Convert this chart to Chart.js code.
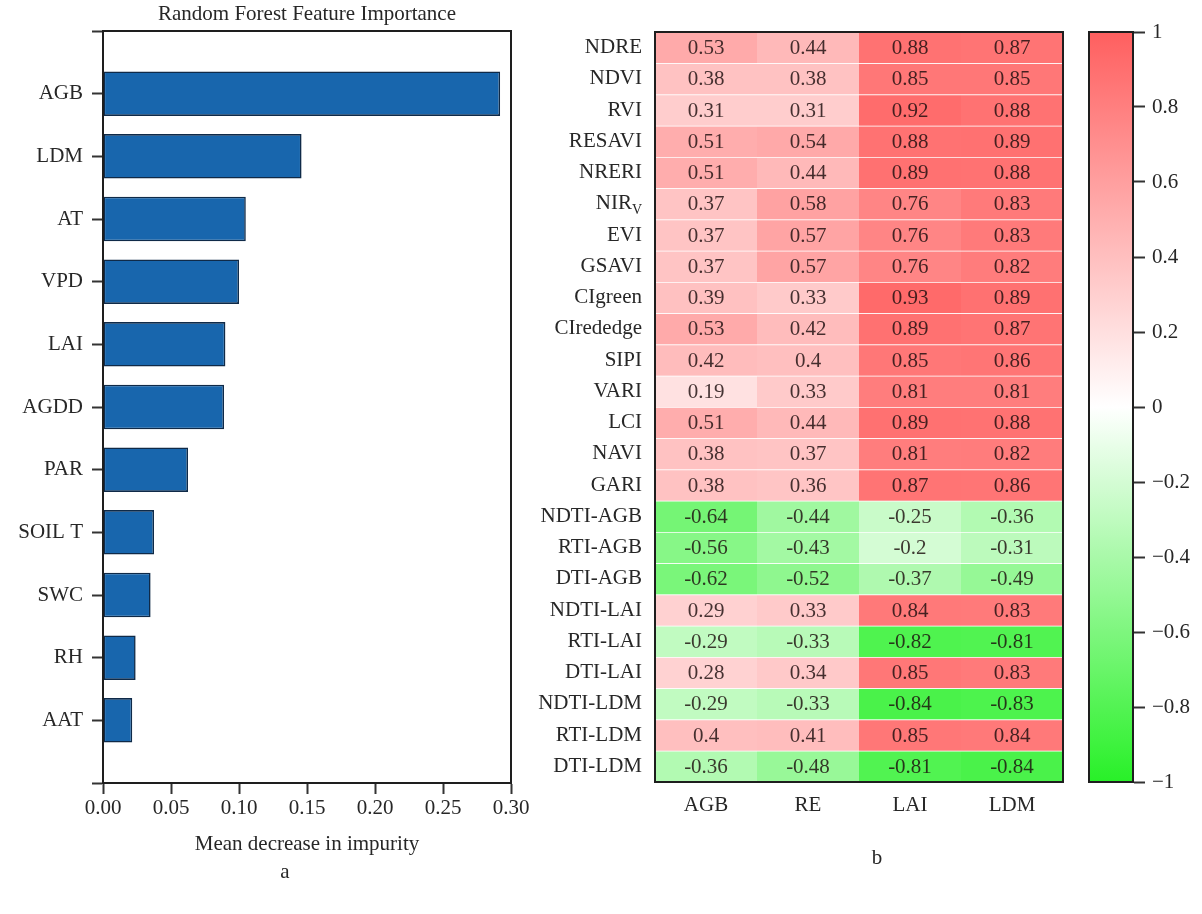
<!DOCTYPE html>
<html>
<head>
<meta charset="utf-8">
<script src="https://cdn.jsdelivr.net/npm/chart.js@4.4.1/dist/chart.umd.min.js"></script>
<style>
  html, body { margin: 0; padding: 0; background: #fff; }
  #wrap { position: relative; width: 1202px; height: 914px; overflow: hidden; background: #fff; }
  canvas { position: absolute; top: 0; }
  #imp { left: 0; }
  #heat { left: 520px; }
  #cbar { left: 1070px; }
</style>
</head>
<body>
<div id="wrap">
  <canvas id="imp" width="560" height="914"></canvas>
  <canvas id="heat" width="560" height="914"></canvas>
  <canvas id="cbar" width="132" height="914"></canvas>
</div>
<script>
// ---- Panel a: random forest feature importance ----
const features = ['AGB', 'LDM', 'AT', 'VPD', 'LAI', 'AGDD', 'PAR', 'SOIL T', 'SWC', 'RH', 'AAT'];
const importance = [0.292, 0.146, 0.105, 0.100, 0.090, 0.089, 0.0625, 0.0375, 0.035, 0.024, 0.0215];
const importanceTicks = [0, 0.05, 0.10, 0.15, 0.20, 0.25, 0.30];

// ---- Panel b: correlation heatmap ----
const rowLabels = ['NDRE', 'NDVI', 'RVI', 'RESAVI', 'NRERI', 'NIRV', 'EVI', 'GSAVI', 'CIgreen', 'CIrededge',
  'SIPI', 'VARI', 'LCI', 'NAVI', 'GARI', 'NDTI-AGB', 'RTI-AGB', 'DTI-AGB', 'NDTI-LAI', 'RTI-LAI',
  'DTI-LAI', 'NDTI-LDM', 'RTI-LDM', 'DTI-LDM'];
const colLabels = ['AGB', 'RE', 'LAI', 'LDM'];
const corrAGB = [0.53, 0.38, 0.31, 0.51, 0.51, 0.37, 0.37, 0.37, 0.39, 0.53, 0.42, 0.19, 0.51, 0.38, 0.38,
  -0.64, -0.56, -0.62, 0.29, -0.29, 0.28, -0.29, 0.4, -0.36];
const corrRE = [0.44, 0.38, 0.31, 0.54, 0.44, 0.58, 0.57, 0.57, 0.33, 0.42, 0.4, 0.33, 0.44, 0.37, 0.36,
  -0.44, -0.43, -0.52, 0.33, -0.33, 0.34, -0.33, 0.41, -0.48];
const corrLAI = [0.88, 0.85, 0.92, 0.88, 0.89, 0.76, 0.76, 0.76, 0.93, 0.89, 0.85, 0.81, 0.89, 0.81, 0.87,
  -0.25, -0.2, -0.37, 0.84, -0.82, 0.85, -0.84, 0.85, -0.81];
const corrLDM = [0.87, 0.85, 0.88, 0.89, 0.88, 0.83, 0.83, 0.82, 0.89, 0.87, 0.86, 0.81, 0.88, 0.82, 0.86,
  -0.36, -0.31, -0.49, 0.83, -0.81, 0.83, -0.83, 0.84, -0.84];
const colorbarRange = [-1, 1];

const FONT = "'Liberation Serif', 'Times New Roman', serif";
const INK = '#272727';
const AXIS = '#1e1e1e';

// green (-1) -> white (0) -> red (+1)
function corrColor(v) {
  const t = Math.max(-1, Math.min(1, v));
  let r, g, b;
  if (t >= 0) {
    r = 255; g = 255 - t * 160; b = 255 - t * 160;
  } else {
    const s = -t;
    r = 255 - s * 215; g = 255 - s * 15; b = 255 - s * 215;
  }
  return `rgb(${Math.round(r)},${Math.round(g)},${Math.round(b)})`;
}

// box around the plotting area
const frame = {
  id: 'frame',
  afterDatasetsDraw(chart, args, opts) {
    const { ctx, chartArea: a } = chart;
    ctx.save();
    ctx.strokeStyle = opts.color || AXIS;
    ctx.lineWidth = opts.width || 2;
    ctx.strokeRect(a.left, a.top, a.right - a.left, a.bottom - a.top);
    ctx.restore();
  }
};

// free text lines (panel title, panel letter) centred on the plotting area
const captions = {
  id: 'captions',
  afterDraw(chart, args, opts) {
    const { ctx, chartArea: a } = chart;
    (opts.items || []).forEach(it => {
      ctx.save();
      ctx.font = `${it.size || 21}px ${FONT}`;
      ctx.fillStyle = INK;
      ctx.textAlign = 'center';
      ctx.textBaseline = 'middle';
      const y = it.edge === 'top' ? a.top - it.dy : a.bottom + it.dy;
      ctx.fillText(it.text, (a.left + a.right) / 2 + (it.dx || 0), y);
      ctx.restore();
    });
  }
};

// ---------- panel a ----------
new Chart(document.getElementById('imp'), {
  type: 'bar',
  data: {
    datasets: [{
      data: features.map((f, i) => ({ x: importance[i], y: i })),
      backgroundColor: '#1866ad',
      borderColor: '#0f2a48',
      borderWidth: 1.6,
      borderSkipped: false,
      barPercentage: 0.71,
      categoryPercentage: 1
    }]
  },
  options: {
    responsive: false,
    animation: false,
    indexAxis: 'y',
    layout: { padding: { left: 0, right: 49, top: 31, bottom: 0 } },
    plugins: {
      legend: { display: false },
      tooltip: { enabled: false },
      frame: { color: AXIS, width: 2 },
      captions: {
        items: [
          { text: 'Random Forest Feature Importance', edge: 'top', dy: 17, size: 21 },
          { text: 'a', edge: 'bottom', dx: -22, dy: 89, size: 21 }
        ]
      }
    },
    scales: {
      x: {
        type: 'linear',
        min: importanceTicks[0],
        max: importanceTicks[importanceTicks.length - 1],
        afterBuildTicks(s) { s.ticks = importanceTicks.map(v => ({ value: v })); },
        ticks: {
          color: INK, font: { family: FONT, size: 21 }, padding: 2, maxRotation: 0,
          callback: v => Number(v).toFixed(2)
        },
        grid: { offset: false, drawOnChartArea: false, drawTicks: true, tickLength: 11, color: '#333', tickWidth: 2 },
        border: { display: true, color: AXIS, width: 2 },
        title: {
          display: true, text: 'Mean decrease in impurity', color: INK,
          font: { family: FONT, size: 21 }, padding: { top: 0, bottom: 57 }
        },
        afterFit(s) { s.height = 131; }
      },
      y: {
        type: 'linear',
        offset: false,
        min: -1,
        max: features.length,
        reverse: true,
        afterBuildTicks(s) {
          const t = [];
          for (let i = -1; i <= features.length; i++) t.push({ value: i });
          s.ticks = t;
        },
        ticks: {
          autoSkip: false, color: INK, font: { family: FONT, size: 21 }, padding: 9,
          callback: v => features[v] ?? ''
        },
        grid: { offset: false, drawOnChartArea: false, drawTicks: true, tickLength: 11, color: '#333', tickWidth: 2 },
        border: { display: true, color: AXIS, width: 2 },
        afterFit(s) { s.width = 103; }
      }
    }
  },
  plugins: [frame, captions]
});

// ---------- panel b ----------
const corrColumns = [corrAGB, corrRE, corrLAI, corrLDM];

// value printed in every cell
const cellText = {
  id: 'cellText',
  afterDatasetsDraw(chart) {
    const ctx = chart.ctx;
    ctx.save();
    ctx.font = `21px ${FONT}`;
    ctx.textAlign = 'center';
    ctx.textBaseline = 'middle';
    ctx.fillStyle = 'rgba(28,14,14,0.82)';
    chart.data.datasets.forEach((ds, di) => {
      chart.getDatasetMeta(di).data.forEach((bar, i) => {
        const { x, y, base } = bar.getProps(['x', 'y', 'base'], true);
        ctx.fillText(String(ds.corr[i]), (x + base) / 2, y + 1);
      });
    });
    ctx.restore();
  }
};

// row label with a subscript (NIR with subscript V)
const subscriptLabel = {
  id: 'subscriptLabel',
  afterDraw(chart) {
    const ys = chart.scales.y;
    const idx = rowLabels.indexOf('NIRV');
    if (idx < 0) return;
    const ctx = chart.ctx;
    const right = ys.right - ys.options.ticks.padding;
    const yy = ys.getPixelForValue(idx);
    ctx.save();
    ctx.fillStyle = INK;
    ctx.textBaseline = 'middle';
    ctx.textAlign = 'right';
    ctx.font = `14px ${FONT}`;
    const subW = ctx.measureText('V').width;
    ctx.fillText('V', right, yy + 6);
    ctx.font = `21px ${FONT}`;
    ctx.fillText('NIR', right - subW, yy);
    ctx.restore();
  }
};

new Chart(document.getElementById('heat'), {
  type: 'bar',
  data: {
    labels: rowLabels,
    datasets: corrColumns.map((vals, c) => ({
      label: colLabels[c],
      corr: vals,
      data: vals.map(() => [c, c + 1]),
      backgroundColor: vals.map(v => corrColor(v)),
      borderColor: 'rgba(255,255,255,0.28)',
      borderWidth: { top: 1, bottom: 0, left: 0, right: 0 },
      borderSkipped: false,
      grouped: false,
      barPercentage: 1,
      categoryPercentage: 1
    }))
  },
  options: {
    responsive: false,
    animation: false,
    indexAxis: 'y',
    layout: { padding: { left: 0, right: 17, top: 32, bottom: 0 } },
    plugins: {
      legend: { display: false },
      tooltip: { enabled: false },
      frame: { color: AXIS, width: 2 },
      captions: { items: [{ text: 'b', edge: 'bottom', dx: 18, dy: 76, size: 21 }] }
    },
    scales: {
      x: { type: 'linear', min: 0, max: colLabels.length, display: false },
      cols: {
        type: 'category',
        labels: colLabels,
        position: 'bottom',
        offset: true,
        grid: { display: false, drawTicks: false },
        border: { display: false },
        ticks: { color: INK, font: { family: FONT, size: 21 }, padding: 11, maxRotation: 0 },
        afterFit(s) { s.height = 132; }
      },
      y: {
        type: 'category',
        grid: { display: false, drawTicks: false },
        border: { display: false },
        ticks: {
          autoSkip: false, color: INK, font: { family: FONT, size: 21 }, padding: 13,
          callback(v, i) { return rowLabels[i] === 'NIRV' ? '' : rowLabels[i]; }
        },
        afterFit(s) { s.width = 135; }
      }
    }
  },
  plugins: [cellText, subscriptLabel, frame, captions]
});

// ---------- colour bar ----------
function barGradient(chart) {
  const { ctx, chartArea, scales } = chart;
  if (!chartArea || !scales.y) return corrColor(0);
  const y = scales.y;
  const g = ctx.createLinearGradient(0, y.getPixelForValue(colorbarRange[1]), 0, y.getPixelForValue(colorbarRange[0]));
  for (let k = 0; k <= 20; k++) g.addColorStop(k / 20, corrColor(1 - k / 10));
  return g;
}

new Chart(document.getElementById('cbar'), {
  type: 'bar',
  data: {
    labels: [''],
    datasets: [{
      data: [colorbarRange],
      backgroundColor: c => barGradient(c.chart),
      borderWidth: 0,
      barPercentage: 1,
      categoryPercentage: 1
    }]
  },
  options: {
    responsive: false,
    animation: false,
    layout: { padding: { left: 19, right: 0, top: 32, bottom: 132 } },
    plugins: {
      legend: { display: false },
      tooltip: { enabled: false },
      frame: { color: AXIS, width: 2 }
    },
    scales: {
      x: { display: false },
      y: {
        position: 'right',
        min: colorbarRange[0],
        max: colorbarRange[1],
        ticks: {
          stepSize: 0.2, color: INK, font: { family: FONT, size: 21 }, padding: 7,
          callback: v => {
            const r = Math.round(v * 10) / 10;
            return r < 0 ? '\u2212' + Math.abs(r) : String(Math.abs(r));
          }
        },
        grid: { drawOnChartArea: false, drawTicks: true, tickLength: 12, color: '#333', tickWidth: 2 },
        border: { display: true, color: AXIS, width: 2 },
        afterFit(s) { s.width = 69; }
      }
    }
  },
  plugins: [frame]
});
</script>
</body>
</html>
